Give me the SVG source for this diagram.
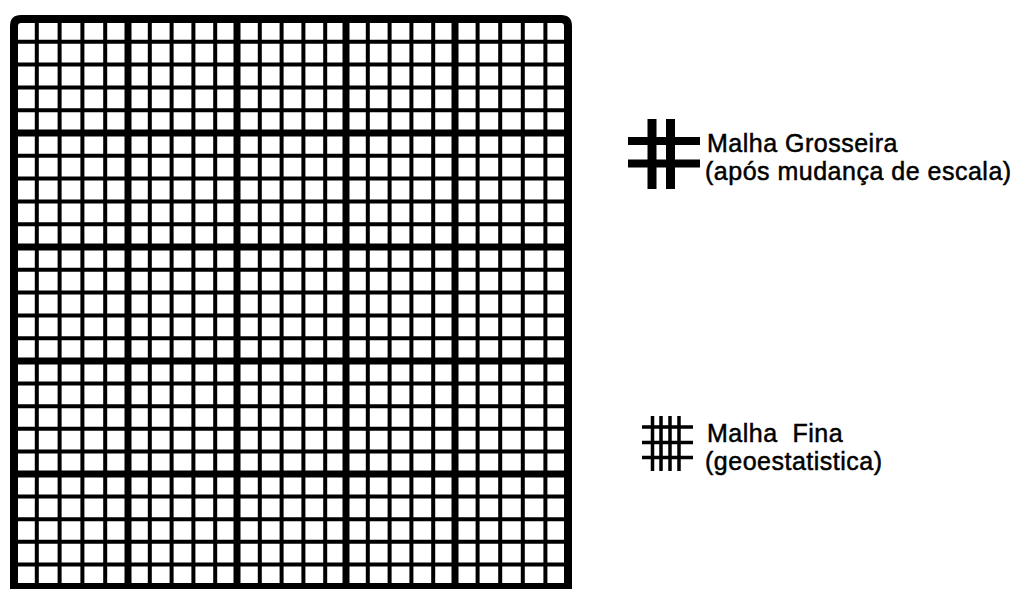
<svg xmlns="http://www.w3.org/2000/svg" width="1027" height="589" viewBox="0 0 1027 589">
<style>
.fine{stroke:#000;stroke-width:4;fill:none}
.coarse{stroke:#000;stroke-width:7;fill:none}
.border{stroke:#000;stroke-width:8;fill:none;stroke-linejoin:round}
.lbl{font-family:"Liberation Sans",Arial,sans-serif;font-size:25px;letter-spacing:0.5px;fill:#000;stroke:#000;stroke-width:0.5}
</style>
<rect width="1027" height="589" fill="#fff"/>
<g id="grid">
<path class="fine" d="M36.8 19V589M59.6 19V589M82.4 19V589M105.2 19V589
M149.8 19V589M171.6 19V589M193.4 19V589M215.2 19V589
M259.8 19V589M281.6 19V589M303.4 19V589M325.2 19V589
M367.8 19V589M389.6 19V589M411.4 19V589M433.2 19V589
M477.6 19V589M500.2 19V589M522.8 19V589M545.4 19V589
M14 41.8H568M14 64.6H568M14 87.4H568M14 110.2H568
M14 155.8H568M14 178.6H568M14 201.4H568M14 224.2H568
M14 269.8H568M14 292.6H568M14 315.4H568M14 338.2H568
M14 383.6H568M14 406.2H568M14 428.8H568M14 451.4H568
M14 496.6H568M14 519.2H568M14 541.8H568M14 564.4H568"/>
<path class="coarse" d="M128 19V589M237 19V589M346 19V589M455 19V589
M14 133H568M14 247H568M14 361H568M14 474H568"/>
<path class="border" d="M14 595V26Q14 19 21 19H561Q568 19 568 26V595M14 587H568"/>
</g>
<g id="legend-coarse">
<path d="M652 119V189M670.5 119V189" stroke="#000" stroke-width="9"/>
<path d="M628 141H700M628 163.5H700" stroke="#000" stroke-width="8"/>
<text class="lbl" x="707" y="152">Malha Grosseira</text>
<text class="lbl" x="705" y="180">(após mudança de escala)</text>
</g>
<g id="legend-fine">
<path d="M652.5 416V471M661 416V471M670 416V471M679 416V471M642 427H693M642 442.5H693M642 457.5H693" stroke="#000" stroke-width="3.5"/>
<text class="lbl" x="707" y="442">Malha&#160; Fina</text>
<text class="lbl" x="705" y="470">(geoestatistica)</text>
</g>
</svg>
